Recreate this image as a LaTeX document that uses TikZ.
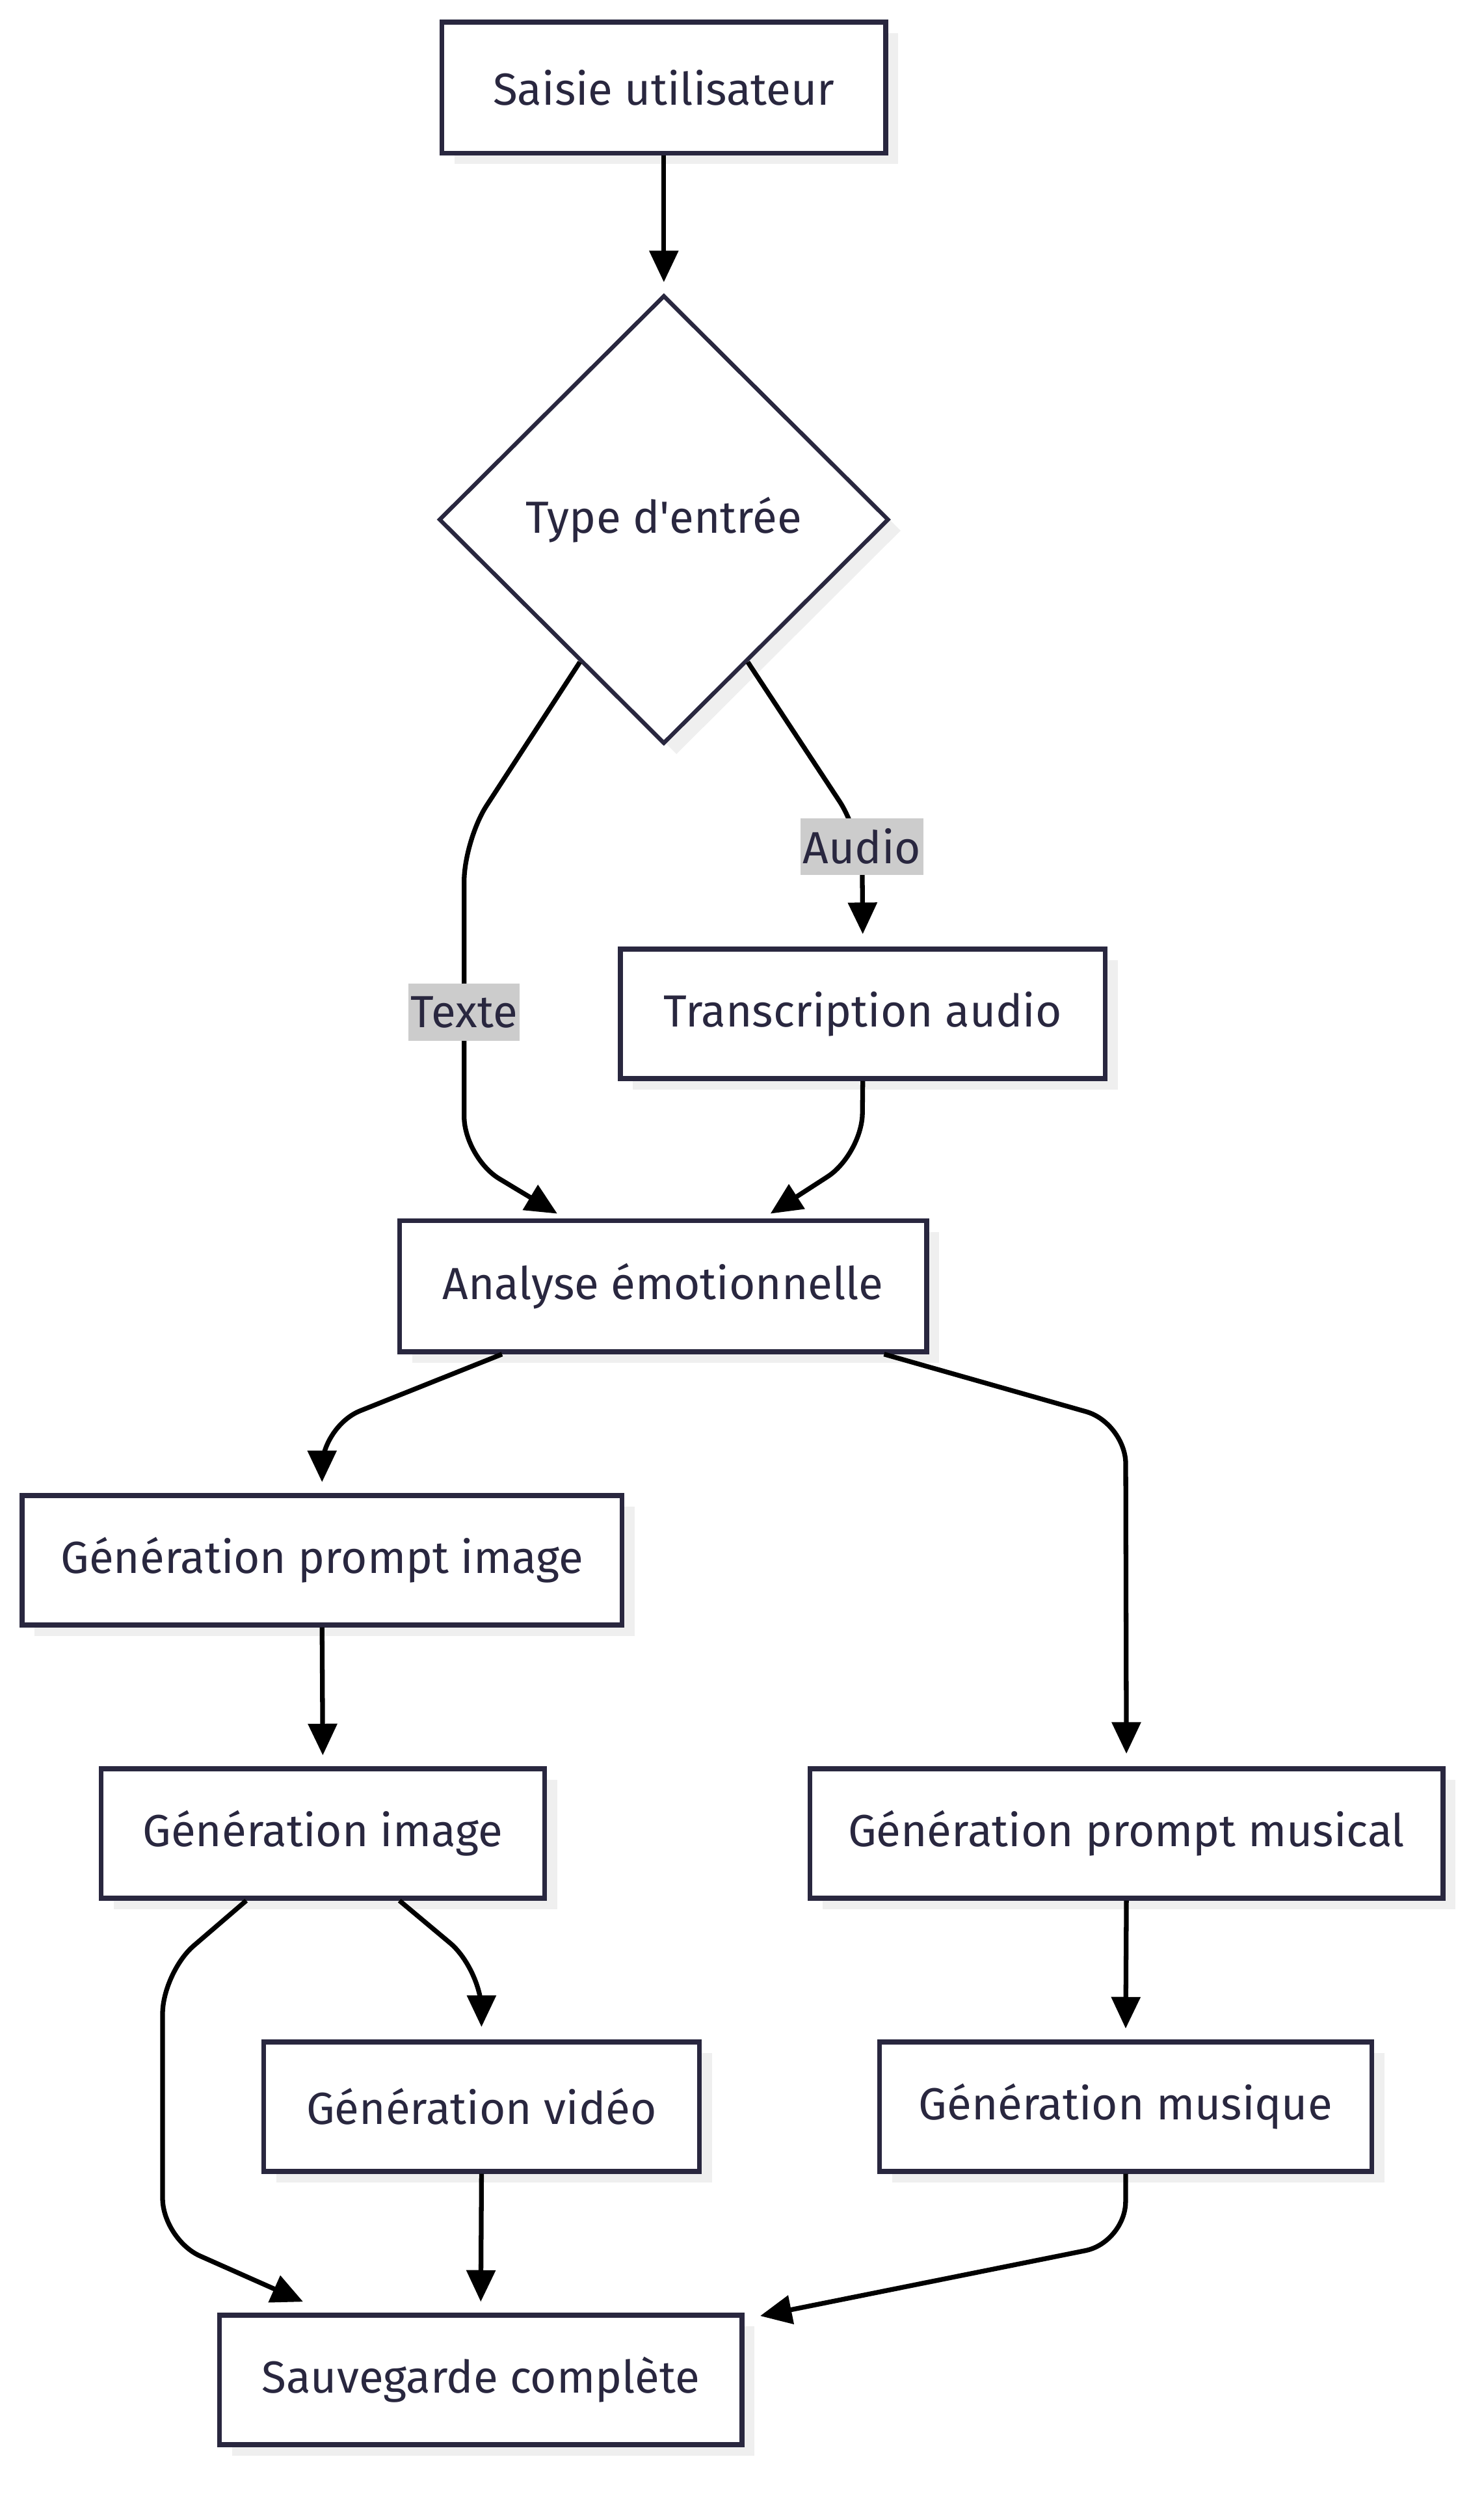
\documentclass[tikz,border=0pt]{standalone}
\usepackage{fontspec}
\setmainfont{Fira Sans}
\usetikzlibrary{shapes.geometric,arrows.meta,shadows,calc}
\definecolor{navy}{HTML}{29273F}
\definecolor{shade}{HTML}{EFEFEF}
\definecolor{lblbg}{HTML}{CCCCCC}
\begin{document}
\begin{tikzpicture}[x=1pt,y=-1pt,
  txt/.style={text=navy, font=\fontsize{28.5}{32}\selectfont},
  box/.style={txt, draw=navy, line width=3pt, fill=white, inner sep=0pt,
    drop shadow={shadow xshift=8pt,shadow yshift=-7pt,fill=shade,opacity=1}},
  decision/.style={box, diamond, aspect=1, line width=2.6pt},
  edge/.style={draw=black, line width=3pt, -{Triangle[length=20pt,width=18pt]}, rounded corners=26pt},
  straight/.style={edge, shorten >=7pt},
  lbl/.style={txt, fill=lblbg, inner xsep=1.5pt, inner ysep=3pt, minimum width=70pt, minimum height=36pt}]
\useasboundingbox (0,0) rectangle (940,1581.8);

% nodes
\node[box, minimum width=281pt, minimum height=83pt] (s1) at (420.5,55.5) {Saisie utilisateur};
\node[decision, minimum width=285pt, minimum height=284pt] (d) at (420.5,329) {Type d\textquotesingle entrée};
\node[box, minimum width=307pt, minimum height=82pt] (tr) at (546.5,642) {Transcription audio};
\node[box, minimum width=334pt, minimum height=83pt] (an) at (420,814.5) {Analyse émotionnelle};
\node[box, minimum width=380pt, minimum height=82pt] (gpi) at (204,988) {Génération prompt image};
\node[box, minimum width=281pt, minimum height=82pt] (gi) at (204.5,1161) {Génération image};
\node[box, minimum width=401pt, minimum height=82pt] (gpm) at (713.5,1161) {Génération prompt musical};
\node[box, minimum width=276pt, minimum height=82pt] (gv) at (305,1334) {Génération vidéo};
\node[box, minimum width=312pt, minimum height=82pt] (gm) at (713,1334) {Génération musique};
\node[box, minimum width=331pt, minimum height=82pt] (sv) at (304.5,1507) {Sauvegarde complète};

% helper coordinates
\coordinate (dl) at ($(d.west)!0.63!(d.south)$);
\coordinate (dr) at ($(d.east)!0.63!(d.south)$);
\coordinate (anTL) at ($(an.north)+(-67,-3)$);
\coordinate (anTR) at ($(an.north)+(68,-3)$);
\coordinate (svTL) at ($(sv.north)+(-112.5,-7)$);
\coordinate (svTR) at ($(sv.north east)+(10,2)$);

% edges
\draw[straight] (s1.south) -- (d.north);
\draw[edge] (dl) -- (294,532) -- (294,733) -- (anTL);
\draw[edge] (dr) -- (546,529) -- ($(tr.north)+(0,-8)$);
\draw[edge] (tr.south) -- (546,731) -- (anTR);
\draw[edge] ($(an.south)+(-102,0)$) -- (204,903) -- ($(gpi.north)+(0,-7)$);
\draw[edge] ($(an.south)+(140,0)$) -- (713,901) -- ($(gpm.north)+(0,-8)$);
\draw[straight] (gpi.south) -- (gi.north);
\draw[edge] ($(gi.south)+(48.5,0)$) -- (305,1247) -- ($(gv.north)+(0,-8)$);
\draw[edge] ($(gi.south)+(-48.5,0)$) -- (103,1249) -- (103,1418) -- (svTL);
\draw[straight] (gv.south) -- (sv.north);
\draw[straight] (gpm.south) -- (gm.north);
\draw[edge] (gm.south) -- (713,1420) -- (svTR);

% edge labels
\node[lbl] (lt) at (294,641) {Texte};
\node[lbl] (la) at (546,536) {Audio};
\end{tikzpicture}
\end{document}
